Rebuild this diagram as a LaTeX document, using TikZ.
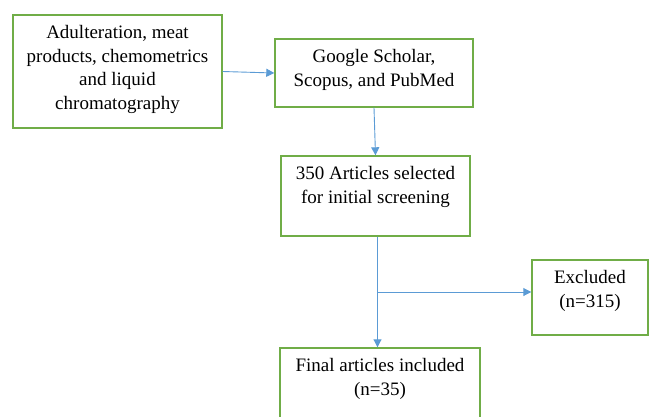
\documentclass[tikz,border=0pt]{standalone}
\usepackage{fontspec}
\setmainfont{Liberation Serif}
\usetikzlibrary{arrows.meta,calc}
\definecolor{boxgreen}{RGB}{112,173,71}
\definecolor{arrowblue}{RGB}{91,155,213}
\tikzset{
  box/.style={draw=boxgreen, line width=1.4pt, inner sep=0pt},
  boxtxt/.style={anchor=north, align=center, inner sep=0pt, font=\fontsize{19}{23.5}\selectfont},
  flow/.style={draw=arrowblue, line width=0.9pt, -{Triangle[length=8pt,width=8pt]}}
}
\begin{document}
\begin{tikzpicture}[x=1pt,y=1pt]
				\useasboundingbox (0,0) rectangle (649,-416);
				\clip (0,0) rectangle (649,-416);

				% boxes
				\node[box, minimum width=209, minimum height=113] (query) at (117.5,-71.5) {};
				\node[boxtxt] (query-t) at ([yshift=-11]query.north) {Adulteration, meat\\products, chemometrics\\and liquid\\chromatography};

				\node[box, minimum width=198, minimum height=68] (google) at (374,-73) {};
				\node[boxtxt] (google-t) at ([yshift=-11]google.north) {Google Scholar,\\Scopus, and PubMed};

				\node[box, minimum width=189, minimum height=80] (screen) at (375.5,-196) {};
				\node[boxtxt] (screen-t) at ([yshift=-11]screen.north) {350 Articles selected\\for initial screening};

				\node[box, minimum width=116, minimum height=75] (excluded) at (590,-297.5) {};
				\node[boxtxt] (excluded-t) at ([yshift=-11]excluded.north) {Excluded\\(n=315)};

				\node[box, minimum width=200, minimum height=84] (final) at (380,-390) {};
				\node[boxtxt] (final-t) at ([yshift=-11]final.north) {Final articles included\\(n=35)};

				% arrows
				\draw[flow] (query.east) -- (google.west);
				\draw[flow] (google.south) -- (screen.north);
				\coordinate (split) at ($([xshift=2]screen.south)!0.5!([xshift=2]screen.south |- final.north)$);
				\draw[flow] ([xshift=2]screen.south) -- ([xshift=2]screen.south |- final.north);
				\draw[flow] (split) -- (split -| excluded.west);
			\end{tikzpicture}
\end{document}
